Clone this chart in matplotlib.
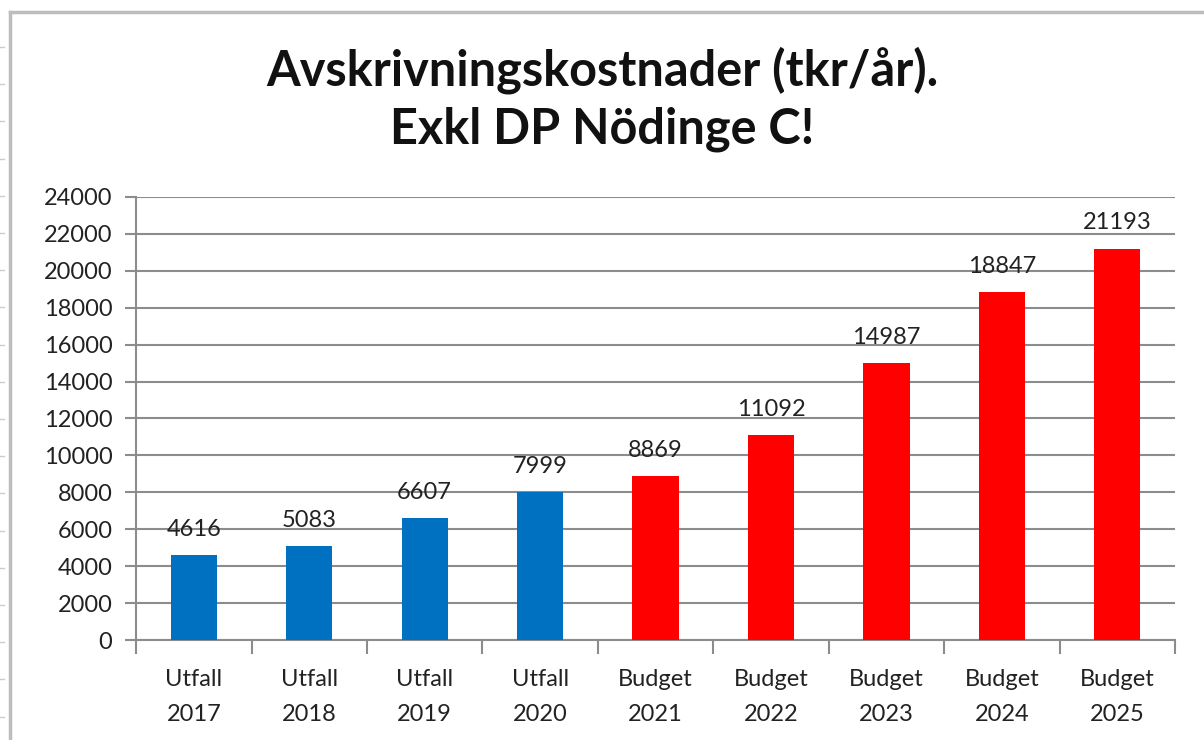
import numpy as np
import matplotlib.pyplot as plt
from matplotlib.lines import Line2D

categories = ["Utfall\n2017", "Utfall\n2018", "Utfall\n2019", "Utfall\n2020",
              "Budget\n2021", "Budget\n2022", "Budget\n2023", "Budget\n2024", "Budget\n2025"]
values = [4616, 5083, 6607, 7999, 8869, 11092, 14987, 18847, 21193]
kinds = ["Utfall"] * 4 + ["Budget"] * 5
colors = {"Utfall": "#0070C0", "Budget": "#FF0000"}

plt.rcParams['font.family'] = ['Lato', 'DejaVu Sans']

fig = plt.figure(figsize=(12.04, 7.40), dpi=100)
ax = fig.add_axes([0.113, 0.135, 0.863, 0.599])

x = np.arange(len(values))
ax.bar(x, values, width=0.4, color=[colors[k] for k in kinds], zorder=3)
for xi, v in zip(x, values):
    ax.annotate(str(v), (xi, v), xytext=(0, 11), textcoords='offset points',
                ha='center', va='bottom', fontsize=17, color='#222222')

ax.set_xlim(-0.5, len(values) - 0.5)
ax.set_ylim(0, 24000)
ax.set_yticks(np.arange(0, 24001, 2000))
ax.yaxis.grid(True, color='#8c8c8c', linewidth=1.5, zorder=0)
ax.tick_params(axis='y', labelsize=17, length=8, width=1.5, color='#8c8c8c', pad=9,
               labelcolor='#222222')

ax.set_xticks(x)
ax.set_xticklabels(categories, fontsize=17, color='#222222', linespacing=1.8)
ax.tick_params(axis='x', length=0, pad=21)
ax.set_xticks(np.arange(-0.5, len(values), 1), minor=True)
ax.tick_params(axis='x', which='minor', length=10, width=1.5, color='#8c8c8c')

for s in ['top', 'right']:
    ax.spines[s].set_visible(False)
for s in ['left', 'bottom']:
    ax.spines[s].set_color('#8c8c8c')
    ax.spines[s].set_linewidth(1.5)

fig.text(0.5, 0.866, "Avskrivningskostnader (tkr/år).\nExkl DP Nödinge C!",
         ha='center', va='center', fontsize=35, fontweight='bold', linespacing=1.32,
         color='#111111')

# worksheet frame
H, W = 740, 1204
fig.add_artist(Line2D([10 / W, 10 / W], [0, 1 - 12 / H], transform=fig.transFigure,
                      color='#bdbdbd', linewidth=2.5))
fig.add_artist(Line2D([10 / W, 1], [1 - 12 / H, 1 - 12 / H], transform=fig.transFigure,
                      color='#bdbdbd', linewidth=2.5))
for yy in np.arange(47, 740, 37.2):
    fig.add_artist(Line2D([0, 4 / W], [1 - yy / H, 1 - yy / H], transform=fig.transFigure,
                          color='#cccccc', linewidth=1))

fig.savefig("out.png", dpi=100)
